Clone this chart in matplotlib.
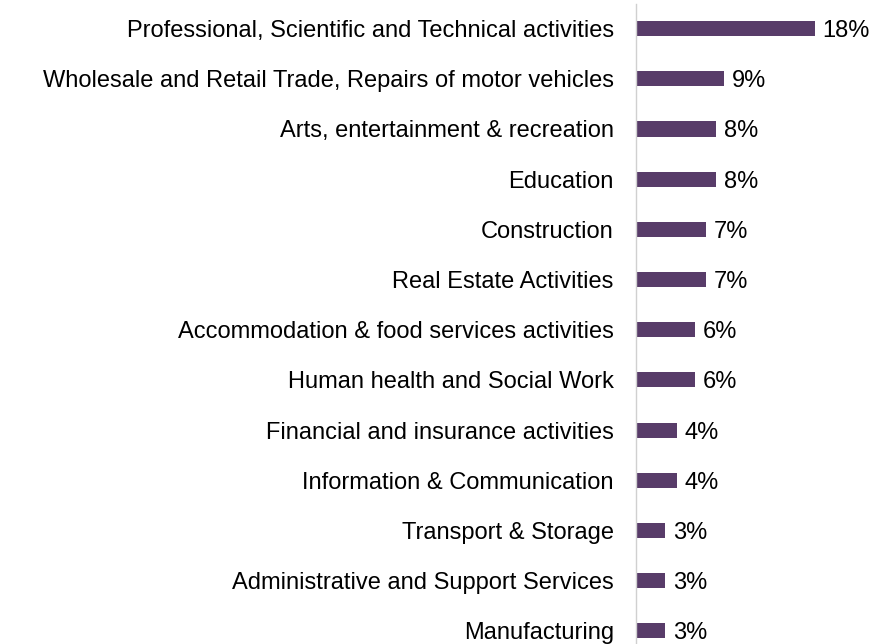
import numpy as np
import matplotlib.pyplot as plt

plt.rcParams['font.family'] = ['Liberation Sans', 'DejaVu Sans']

# sectors, top to bottom
sectors = [
    'Professional, Scientific and Technical activities',
    'Wholesale and Retail Trade, Repairs of motor vehicles',
    'Arts, entertainment & recreation',
    'Education',
    'Construction',
    'Real Estate Activities',
    'Accommodation & food services activities',
    'Human health and Social Work',
    'Financial and insurance activities',
    'Information & Communication',
    'Transport & Storage',
    'Administrative and Support Services',
    'Manufacturing',
]
shares = [18.0, 8.9, 8.1, 8.1, 7.0, 7.0, 5.9, 5.9, 4.1, 4.1, 2.9, 2.9, 2.9]
share_labels = ['18%', '9%', '8%', '8%', '7%', '7%', '6%', '6%', '4%', '4%', '3%', '3%', '3%']

fig = plt.figure(figsize=(8.74, 6.44), dpi=100)
ax = fig.add_axes([636 / 874, 0, 229 / 874, 640 / 644])

y = np.arange(len(sectors))
ax.barh(y, shares, height=0.3, color='#583C69')

for yi, v, lab in zip(y, shares, share_labels):
    ax.text(v + 0.8, yi + 0.05, lab, va='center', ha='left', fontsize=17, color='black')

ax.set_xlim(0, 23.06)
ax.set_ylim(12.26, -0.49)
ax.set_yticks(y)
ax.set_yticklabels(sectors, fontsize=17)
ax.tick_params(axis='y', length=0, pad=16)
ax.set_xticks([])

for s in ['top', 'right', 'bottom']:
    ax.spines[s].set_visible(False)
ax.spines['left'].set_color('#D0D0D0')
ax.spines['left'].set_linewidth(1)

fig.savefig('out.png', dpi=100)
